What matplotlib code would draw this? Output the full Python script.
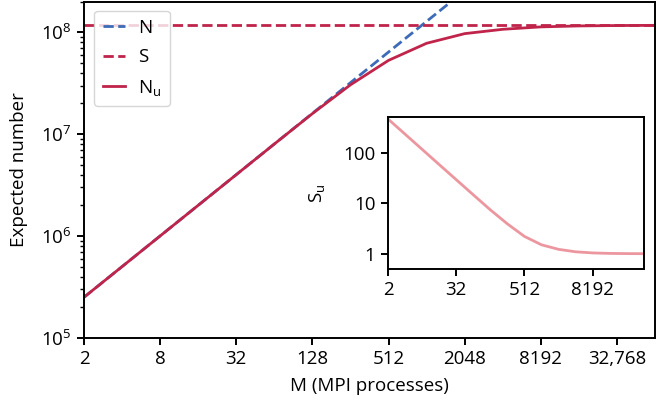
import numpy as np
from matplotlib import pyplot as plt
from matplotlib import ticker

plt.rcParams['font.family'] = ['Open Sans', 'DejaVu Sans']
plt.rcParams['mathtext.fontset'] = 'custom'
plt.rcParams['mathtext.rm'] = 'Open Sans'
plt.rcParams['mathtext.it'] = 'Open Sans'
plt.rcParams['font.size'] = 13.5

# ---- data ----
procs = [2, 4, 8, 16, 32, 64, 128, 256, 512, 1024, 2048, 4096,
         8192, 16384, 32768, 65536]
n_total = [2.5e5, 5e5, 1e6, 2e6, 4e6, 8e6, 1.6e7, 3.2e7, 6.4e7, 1.28e8,
           2.56e8, 5.12e8, 1.02e9, 2.05e9, 4.1e9, 8.2e9]
s_space = 1.17e8
n_unique = [2.5e5, 5e5, 1e6, 2e6, 4e6, 8e6, 1.59e7, 3.05e7, 5.3e7, 7.8e7,
            9.7e7, 1.07e8, 1.13e8, 1.155e8, 1.165e8, 1.17e8]
s_unique = [468, 234, 117, 58.5, 29.3, 14.7, 7.4, 3.9, 2.2, 1.5, 1.22,
            1.09, 1.035, 1.013, 1.004, 1.0]

x_ticks = [2, 8, 32, 128, 512, 2048, 8192, 32768]
x_labels = ["2", "8", "32", "128", "512", "2048", "8192", "32,768"]
inset_ticks = [2, 32, 512, 8192]
inset_yticks = [1, 10, 100]

blue = "#3d6bb8"
crimson = "#c0244a"
pink = "#ec979f"

fig = plt.figure(figsize=(6.61, 4.08), dpi=100)
ax = fig.add_axes([0.127, 0.172, 0.864, 0.824])

ax.plot(procs, n_total, "--", color=blue, lw=2.0, label="N")
ax.axhline(s_space, ls="--", color=crimson, lw=2.0, label="S")
ax.plot(procs, n_unique, "-", color=crimson, lw=2.0,
        label=r"N$_\mathrm{u}$")

ax.set_xscale("log", base=2)
ax.set_yscale("log")
ax.set_xlim(2, 65536)
ax.set_ylim(1e5, 2e8)
ax.set_xticks(x_ticks)
ax.set_xticklabels(x_labels)
ax.xaxis.set_minor_locator(ticker.NullLocator())
ax.set_xlabel("M (MPI processes)", labelpad=6)
ax.set_ylabel("Expected number", labelpad=9)
for sp in ax.spines.values():
    sp.set_linewidth(1.4)
ax.tick_params(which="major", width=1.4, length=5, pad=4)
ax.tick_params(which="minor", width=1.0, length=3)
leg = ax.legend(loc="upper left", fontsize=13.5, handlelength=1.2,
                handletextpad=0.7, borderpad=0.45, labelspacing=0.6,
                borderaxespad=0.3, fancybox=True,
                bbox_to_anchor=(0.008, 0.99))
leg.get_frame().set_linewidth(1.0)

# ---- inset ----
ins = fig.add_axes([0.587, 0.341, 0.387, 0.372])
ins.plot(procs, s_unique, "-", color=pink, lw=2.0)
ins.set_xscale("log", base=2)
ins.set_yscale("log")
ins.set_xlim(2, 65536)
ins.set_ylim(0.5, 510)
ins.set_xticks(inset_ticks)
ins.set_xticklabels([str(t) for t in inset_ticks])
ins.set_yticks(inset_yticks)
ins.set_yticklabels([str(t) for t in inset_yticks])
ins.xaxis.set_minor_locator(ticker.NullLocator())
ins.yaxis.set_minor_locator(ticker.NullLocator())
ins.set_ylabel(r"S$_\mathrm{u}$", labelpad=12)
for sp in ins.spines.values():
    sp.set_linewidth(1.4)
ins.tick_params(which="major", width=1.4, length=5, pad=4)

fig.savefig("out.png", dpi=100)
